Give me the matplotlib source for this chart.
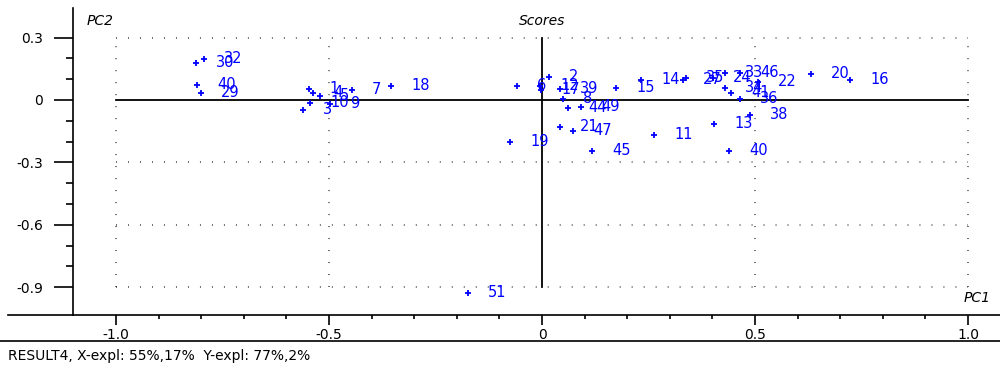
import matplotlib
matplotlib.use('Agg')
import matplotlib.pyplot as plt
from matplotlib.lines import Line2D

# sample names and their scores (PC1, PC2)
labels = ['30', '32', '40', '29',
          '3', '10', '1', '4', '5', '9', '7', '18',
          '6', '12', '17', '2', '39', '8', '44', '49', '15', '14',
          '27', '35', '24', '33', '46', '22', '34', '41', '36', '38',
          '13', '40', '20', '16', '11', '45', '47', '21', '19', '51']
pc1 = [-0.812, -0.793, -0.810, -0.800,
       -0.561, -0.545, -0.547, -0.538, -0.521, -0.498, -0.446, -0.354,
       -0.059, -0.005, -0.002, 0.016, 0.042, 0.049, 0.061, 0.092, 0.174, 0.232,
       0.331, 0.338, 0.401, 0.430, 0.465, 0.507, 0.430, 0.444, 0.465, 0.488,
       0.404, 0.439, 0.631, 0.723, 0.263, 0.117, 0.073, 0.042, -0.075, -0.174]
pc2 = [0.178, 0.197, 0.072, 0.034,
       -0.048, -0.014, 0.053, 0.034, 0.019, -0.019, 0.048, 0.067,
       0.067, 0.067, 0.048, 0.111, 0.053, 0.005, -0.038, -0.034, 0.058, 0.096,
       0.096, 0.106, 0.106, 0.130, 0.130, 0.087, 0.058, 0.034, 0.005, -0.072,
       -0.115, -0.245, 0.125, 0.096, -0.168, -0.245, -0.149, -0.130, -0.202, -0.928]

x_major = [-1.0, -0.5, 0.0, 0.5, 1.0]
x_major_labels = ['-1.0', '-0.5', '0', '0.5', '1.0']
y_major = [0.3, 0.0, -0.3, -0.6, -0.9]
y_major_labels = ['0.3', '0', '-0.3', '-0.6', '-0.9']

BLUE = '#0000ff'

fig = plt.figure(figsize=(10, 3.75), dpi=100)
ax = fig.add_axes([0.073, 0.16, 0.927, 0.8187])
ax.set_xlim(-1.101, 1.075)
ax.set_ylim(-1.034, 0.442)

for side in ['top', 'right']:
    ax.spines[side].set_visible(False)
for side in ['left', 'bottom']:
    ax.spines[side].set_linewidth(1.2)

# dotted grid box and solid zero lines
dots = (0, (0.55, 7.3))
ax.hlines([0.3, -0.3, -0.6, -0.9], -1, 1, colors='#222222', lw=1.1, linestyles=dots)
ax.vlines([-1, -0.5, 0.5, 1], -0.9, 0.3, colors='#222222', lw=1.1, linestyles=dots)
ax.plot([-1, 1], [0, 0], color='k', lw=1.3)
ax.plot([0, 0], [-0.9, 0.3], color='k', lw=1.3)

# points and their names
ax.plot(pc1, pc2, linestyle='none', marker='+', color=BLUE, ms=5, mew=1.3)
for name, x, y in zip(labels, pc1, pc2):
    ax.annotate(name, (x, y), xytext=(14.5, 0), textcoords='offset points',
                color=BLUE, fontsize=10.5, va='center', ha='left')

# ticks
ax.set_xticks(x_major)
ax.set_xticklabels(x_major_labels)
ax.set_xticks([v / 10 for v in range(-9, 10) if v % 5 != 0], minor=True)
ax.set_yticks(y_major)
ax.set_yticklabels(y_major_labels)
ax.set_yticks([v / 10 for v in range(-8, 3) if v % 3 != 0], minor=True)
ax.tick_params(axis='x', which='major', length=7.2, width=1.2, pad=2, labelsize=10)
ax.tick_params(axis='x', which='minor', length=3, width=1.2)
ax.tick_params(axis='y', which='major', length=13.7, width=1.2, pad=8, labelsize=10)
ax.tick_params(axis='y', which='minor', length=5, width=1.2)

# axis names
ax.text(-1.07, 0.38, 'PC2', style='italic', fontsize=10, va='center', ha='left')
ax.text(0.0, 0.38, 'Scores', style='italic', fontsize=10, va='center', ha='center')
ax.text(1.052, -0.95, 'PC1', style='italic', fontsize=10, va='center', ha='right')

# bottom spine runs on to the left edge, then a rule and the status line
fig.add_artist(Line2D([0.008, 0.073], [0.16, 0.16], color='k', lw=1.2))
fig.add_artist(Line2D([0, 1], [0.092, 0.092], color='k', lw=1.2))
fig.text(0.008, 0.05, 'RESULT4, X-expl: 55%,17%  Y-expl: 77%,2%',
         fontsize=10, va='center', ha='left')

fig.savefig('out.png', dpi=100)
